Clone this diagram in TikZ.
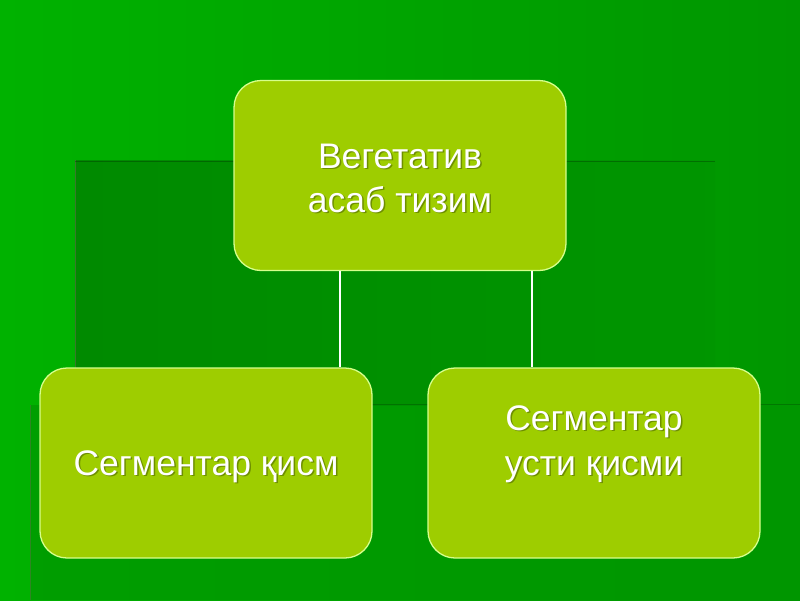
\documentclass[tikz,border=0pt]{standalone}
\usepackage{fontspec}
\setmainfont{Liberation Sans}
\definecolor{bgL}{RGB}{0,178,0}
\definecolor{bgR}{RGB}{0,150,0}
\definecolor{darkA}{RGB}{0,138,0}
\definecolor{darkB}{RGB}{0,150,0}
\definecolor{boxfill}{RGB}{158,205,0}
\definecolor{boxline}{RGB}{214,255,140}
\definecolor{edgeline}{RGB}{95,110,70}
\tikzset{
  box/.style={draw=boxline, fill=boxfill, line width=1.3pt, rounded corners=27pt,
    minimum width=332pt, minimum height=190pt, inner sep=0pt},
  lbl/.style={text=white, font=\fontsize{35.5}{42}\selectfont, anchor=base, inner sep=0pt},
  shd/.style={text=black, opacity=0.3, font=\fontsize{35.5}{42}\selectfont, anchor=base, inner sep=0pt},
  conn/.style={draw=white, line width=1.4pt}
}
\begin{document}
\begin{tikzpicture}[x=1pt,y=-1pt]
\useasboundingbox (0,0) rectangle (800,600);
% background
\shade[left color=bgL, right color=bgR] (0,0) rectangle (800,600);
\fill[darkB, opacity=0.7] (30,405) rectangle (800,600);
\shade[left color=darkA, right color=darkA!90!green] (75,160) rectangle (715,405);
\draw[edgeline, line width=1pt, opacity=0.6] (75,160) -- (75,405);
\draw[edgeline, line width=1pt, opacity=0.5] (30,405) -- (30,600);
\draw[black, line width=1pt, opacity=0.25] (75,161) -- (715,161);
\draw[black, line width=1pt, opacity=0.2] (75,404) -- (800,404);
% boxes
\node[box] (top) at (400,175.5) {};
\node[box] (bl) at (206,463) {};
\node[box] (br) at (594,463) {};
% connectors
\coordinate (c1) at (340,0);
\coordinate (c2) at (532,0);
\draw[conn] (top.south -| c1) -- (bl.north -| c1);
\draw[conn] (top.south -| c2) -- (br.north -| c2);
% text shadows
\node[shd] (s1) at (401.5,169.5) {Вегетатив};
\node[shd] (s2) at (401.5,213.5) {асаб тизим};
\node[shd] (s3) at (207.5,476.5) {Сегментар қисм};
\node[shd] (s4) at (595.5,431.5) {Сегментар};
\node[shd] (s5) at (595.5,476.5) {усти қисми};
% text
\node[lbl] (t1) at (400,168) {Вегетатив};
\node[lbl] (t2) at (400,212) {асаб тизим};
\node[lbl] (t3) at (206,475) {Сегментар қисм};
\node[lbl] (t4) at (594,430) {Сегментар};
\node[lbl] (t5) at (594,475) {усти қисми};
\end{tikzpicture}
\end{document}
